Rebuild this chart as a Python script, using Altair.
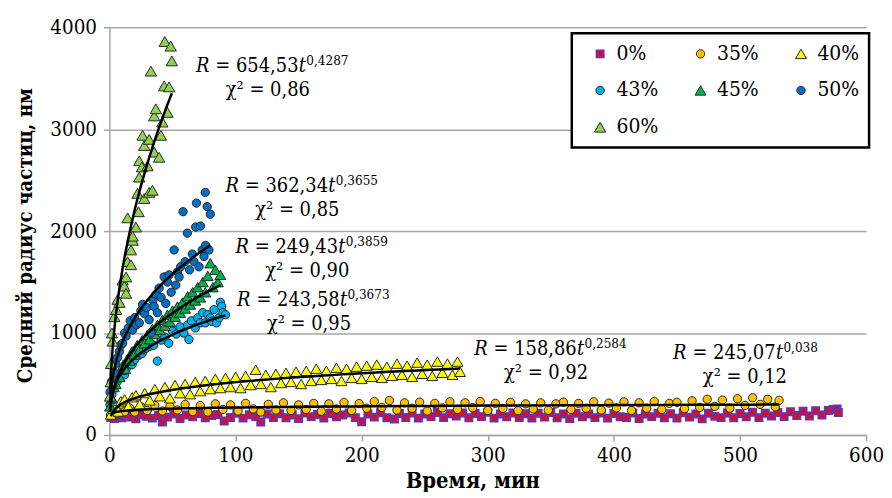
import altair as alt
import pandas as pd

FONT = "DejaVu Serif Condensed, DejaVu Serif"

series_names = ["0%", "35%", "40%", "43%", "45%", "50%", "60%"]
fill_colors = ["#FF0000", "#FFC000", "#FFFF00", "#00B0F0", "#00B050", "#0070C0", "#92D050"]
stroke_colors = ["#7030A0", "#262626", "#262626", "#262626", "#262626", "#262626", "#262626"]
stroke_widths = [2.5, 1, 1, 1, 1, 1, 1]
shapes = ["square", "circle", "triangle-up", "circle", "triangle-up", "circle", "triangle-up"]
sizes = [42, 70, 120, 70, 120, 70, 130]

# 0 %
t_0 = [1, 4, 7, 10, 13, 17, 21, 25, 29, 34,
       39, 42, 46, 51, 56, 61, 66, 71, 76, 81,
       86, 91, 96, 101, 106, 111, 116, 120, 125, 130,
       135, 140, 145, 150, 155, 160, 165, 170, 175, 180,
       185, 190, 195, 200, 205, 210, 215, 220,
       226,
       230, 235, 240, 245, 250, 255, 260, 265, 270, 275,
       280, 285, 290, 295, 300, 305, 310, 315, 320, 325,
       330, 335, 340, 345, 350, 355, 360, 365, 370, 375,
       380, 385, 390, 395, 400, 405, 410, 415, 420, 425,
       430, 435, 440, 445, 450, 455, 460, 465, 470, 475,
       480, 485, 490, 495, 500, 505, 510, 515, 520, 525,
       530, 535, 540, 545, 550, 555, 560, 565, 570,
       574, 577, 578]
r_0 = [172, 160, 185, 168, 195, 176, 158, 200, 182, 165,
       190, 127, 175, 205, 162, 195, 178, 210, 168, 190,
       200, 137, 172, 212, 165, 198, 180, 127, 205, 170,
       208, 168, 195, 160, 215, 180, 200, 165, 210, 178,
       195, 215, 170, 130, 205, 175, 218, 168,
       156,
       210, 172, 215, 165, 205, 180, 220, 170, 208, 185,
       215, 168, 210, 180, 222, 165, 205, 178, 215, 172,
       208, 165, 212, 175, 220, 168, 205, 160, 212, 178,
       205, 170, 215, 165, 210, 178, 172, 215, 162, 205,
       180, 212, 168, 208, 165, 218, 175, 205, 158, 212,
       182, 170, 215, 168, 210, 178, 222, 170, 212, 185,
       220, 180, 228, 190, 232, 185, 238, 195, 240,
       250, 255, 220]

# 35 %
t_35 = [1, 3, 6, 9, 12, 16, 20, 25, 30,
        36, 42, 48, 54, 60, 66, 72, 78, 84, 90,
        96, 102, 108, 114, 120, 126, 132, 138, 144, 150,
        156, 162, 168, 174, 180, 186, 192, 198, 204, 210,
        216, 222, 228, 234, 240, 246, 252, 258, 264, 270,
        276, 282, 288, 294, 300, 306, 312, 318, 324, 330,
        336, 342, 348, 354, 360, 366, 372, 378, 384, 390,
        396, 402, 408, 414, 420, 426, 432, 438, 444, 450,
        456, 462, 468, 474, 480, 486, 492, 498, 504, 510,
        516, 522, 528, 531]
r_35 = [195, 230, 210, 255, 228, 265, 225, 275, 240,
        290, 235, 280, 245, 300, 230, 288, 225, 305, 250,
        295, 235, 310, 255, 225, 300, 245, 315, 240, 295,
        250, 310, 232, 305, 255, 320, 240, 308, 262, 328,
        270, 338, 245, 315, 262, 322, 235, 310, 265, 325,
        250, 315, 268, 328, 240, 310, 260, 320, 238, 305,
        255, 315, 242, 305, 322, 250, 310, 262, 325, 245,
        312, 265, 325, 240, 315, 262, 328, 250, 310, 320,
        258, 335, 270, 350, 280, 342, 262, 355, 290, 365,
        300, 350, 275, 340]

# 40 %
t_40 = [1, 3, 5, 7, 9, 12, 15, 18, 21, 24,
        28, 32, 36, 40, 44, 48, 52, 56, 60, 64,
        68, 72, 76, 80, 84, 88, 92, 96, 100, 104,
        108, 112, 116, 120, 124, 128, 132, 136, 140, 144,
        148, 152, 156, 160, 164, 168, 172, 176, 180, 184,
        188, 192, 196, 200, 204, 208, 212, 216, 220, 224,
        228, 232, 236, 240, 244, 248, 252, 256, 260, 264,
        268, 272, 276, 278]
r_40 = [200, 260, 290, 230, 330, 350, 280, 370, 390, 300,
        410, 340, 450, 380, 470, 360, 490, 410, 500, 400,
        520, 430, 530, 450, 550, 460, 560, 470, 570, 460,
        580, 490, 640, 500, 590, 470, 600, 510, 610, 520,
        620, 500, 630, 530, 650, 540, 630, 550, 660, 530,
        650, 560, 670, 550, 680, 570, 690, 560, 670, 580,
        700, 590, 680, 570, 710, 600, 690, 580, 720, 610,
        700, 590, 720, 620]

# 43 %
t_43 = [0.5, 2, 4, 6, 8, 10, 12, 14, 16, 18,
        20, 23, 26, 29, 32, 35, 38, 41, 44, 47,
        50, 53, 56, 59, 62, 63, 65, 68, 70, 72,
        74, 76, 78, 80, 81, 83, 85, 87, 88, 89,
        90, 92]
r_43 = [300, 400, 470, 520, 560, 600, 590, 660, 700, 690,
        740, 780, 800, 850, 870, 880, 725, 930, 960, 900,
        1020, 990, 1060, 1000, 1080, 937, 1120, 1050, 1150, 1100,
        1200, 1100, 1180, 1150, 1115, 1230, 1100, 1150, 1300, 1262,
        1200, 1180]

# 45 %
t_45 = [0.5, 2, 3.5, 5, 6.5, 8, 9.5, 11, 12.5, 14,
        16, 18, 20, 22, 24, 26, 28, 30, 32, 34,
        36, 38, 40, 42, 44, 46, 48, 50, 52, 54,
        56, 58, 60, 62, 64, 66, 68, 70, 72, 74,
        76, 78, 80, 82, 84, 86, 88]
r_45 = [280, 360, 470, 500, 590, 570, 640, 690, 650, 740,
        730, 820, 790, 880, 840, 930, 900, 980, 940, 1040,
        990, 1080, 1030, 1130, 1070, 1180, 1110, 1220, 1160, 1260,
        1200, 1300, 1240, 1360, 1280, 1400, 1320, 1450, 1350, 1500,
        1400, 1560, 1685, 1450, 1620, 1500, 1571]

# 50 %
t_50 = [0.5, 1.5, 2.6, 3.9, 5.0, 6.5, 7.9, 9.0, 10.5, 12.0,
        13.2, 15.0, 16.5, 18.4, 20.0, 21.5, 23.7, 25.0, 26.3, 28.0,
        29.5, 31.5, 32.9, 34.5, 35.5, 37.0, 38.0, 39.4, 41.0, 43.4,
        44.7, 46.0, 47.3, 49.0, 51.3, 52.6, 54.0, 55.2, 56.5, 58.4,
        60.0, 61.8, 63.5, 65.7, 67.0, 68.4, 69.0, 71.0, 72.3, 73.6,
        75.0, 76.3, 76.0, 77.5, 78.9, 80.0]
r_50 = [420, 520, 480, 610, 700, 760, 820, 880, 900, 1000,
        970, 1050, 1120, 1030, 1150, 1080, 1100, 1220, 1280, 1190,
        1250, 1130, 1000, 1320, 1260, 1380, 1200, 1440, 1350, 1550,
        1290, 1500, 1570, 1400, 1815, 1470, 1600, 1550, 1650, 2190,
        1700, 1980, 1620, 1775, 1700, 2040, 2275, 1650, 2050, 1815,
        1750, 1860, 2380, 2240, 1815, 2165]

# 60 %
t_60 = [0.5, 1.3, 2.6, 3.9, 5.3, 6.5, 7.9, 10.5, 11.8, 13.2,
        13.2, 14.4, 17.1, 17.1, 18.4, 21.0, 22.3, 23.1, 23.7, 23.7,
        25.8, 26.3, 27.6, 27.6, 30.2, 31.5, 31.5, 32.9, 34.1, 35.5,
        35.5, 36.8, 39.4, 40.8, 42.0, 43.4, 43.9, 46.0, 47.3, 48.6,
        49.5, 14.4, 18.4, 2.0, 1.0]
r_60 = [380, 700, 920, 1160, 1230, 1330, 1300, 1520, 1460, 1390,
        1550, 1700, 1670, 1815, 1910, 2040, 2370, 2190, 2530, 2690,
        2630, 2940, 2840, 2320, 2640, 2380, 2900, 3570, 2400, 2775,
        3130, 3200, 2725, 2940, 3070, 3425, 3860, 3165, 3415, 3815,
        3670, 2130, 1950, 1000, 520]

# fit labels
label_t = [68.6, 92.0, 99.9, 101.2, 289.2, 446.9]
label_r = [3561, 2383, 1785, 1268, 780, 741]
coef_text = ["654,53", "362,34", "249,43", "243,58", "158,86", "245,07"]
expo_text = ["0,4287", "0,3655", "0,3859", "0,3673", "0,2584", "0,038"]
chi_text = ["0,86", "0,85", "0,90", "0,95", "0,92", "0,12"]

x_ticks = [0, 100, 200, 300, 400, 500, 600]
y_ticks = [0, 1000, 2000, 3000, 4000]

all_t = [t_0, t_35, t_40, t_43, t_45, t_50, t_60]
all_r = [r_0, r_35, r_40, r_43, r_45, r_50, r_60]
frames = []
for name, ts, rs in zip(series_names, all_t, all_r):
    frames.append(pd.DataFrame({"t": ts, "r": rs, "series": name}))
df = pd.concat(frames, ignore_index=True)

lab = pd.DataFrame({
    "t": label_t,
    "r": label_r,
    "coef": ["= " + c for c in coef_text],
    "expo": expo_text,
    "chi": ["\u03c7\u00b2 = " + c for c in chi_text],
})

x_scale = alt.Scale(domain=[0, 600], nice=False, zero=False)
y_scale = alt.Scale(domain=[0, 4000], nice=False)
GRAY = "#A6A6A6"
TICK_FS = 20.5

x_axis = alt.Axis(values=x_ticks, format="d", title="Время, мин", grid=False,
                  domainColor=GRAY, domainWidth=1.5, tickColor=GRAY, tickWidth=1.5,
                  tickSize=6, labelFont=FONT, labelFontSize=TICK_FS, labelColor="black",
                  labelPadding=5, labelFlush=False, labelOverlap=False,
                  titleFont=FONT, titleFontSize=22, titleFontWeight="bold", titleColor="black",
                  titleX=365, titleY=53, titleAlign="center", titleBaseline="alphabetic")
y_axis = alt.Axis(values=y_ticks, format="d", title="Средний радиус частиц, нм", grid=True,
                  gridColor=GRAY, gridWidth=1.5,
                  domainColor=GRAY, domainWidth=1.5, tickColor=GRAY, tickWidth=1.5,
                  tickSize=6, labelFont=FONT, labelFontSize=TICK_FS, labelColor="black",
                  labelPadding=7, labelFlush=False, labelOverlap=False,
                  titleFont=FONT, titleFontSize=20.5, titleFontWeight="bold", titleColor="black",
                  titleX=-78, titleY=209, titleAngle=270, titleAlign="center",
                  titleBaseline="alphabetic")

points = alt.Chart(df).mark_point(filled=True, opacity=1, fillOpacity=1).encode(
    x=alt.X("t:Q", scale=x_scale, axis=x_axis),
    y=alt.Y("r:Q", scale=y_scale, axis=y_axis),
    fill=alt.Fill("series:N", scale=alt.Scale(domain=series_names, range=fill_colors), title=None),
    stroke=alt.Stroke("series:N", scale=alt.Scale(domain=series_names, range=stroke_colors), title=None),
    strokeWidth=alt.StrokeWidth("series:N", scale=alt.Scale(type="ordinal", domain=series_names, range=stroke_widths), title=None),
    shape=alt.Shape("series:N", scale=alt.Scale(domain=series_names, range=shapes), title=None),
    size=alt.Size("series:N", scale=alt.Scale(type="ordinal", domain=series_names, range=sizes), title=None),
)

lines = alt.Chart(df).transform_filter(
    alt.datum.series != "0%"
).transform_regression(
    "t", "r", method="pow", groupby=["series"]
).mark_line(color="black", strokeWidth=2.5).encode(
    x=alt.X("t:Q", scale=x_scale),
    y=alt.Y("r:Q", scale=y_scale),
    detail="series:N",
)

FS = 20
base = alt.Chart(lab).encode(x=alt.X("t:Q", scale=x_scale), y=alt.Y("r:Q", scale=y_scale))
r_txt = base.mark_text(text="R", align="left", baseline="alphabetic", font=FONT,
                       fontSize=FS, fontStyle="italic", color="black")
coef_txt = base.mark_text(align="left", baseline="alphabetic", font=FONT, fontSize=FS,
                          color="black", dx=19.5).encode(text="coef:N")
tt_txt = base.mark_text(text="t", align="left", baseline="alphabetic", font=FONT,
                        fontSize=FS, fontStyle="italic", color="black", dx=103.5)
exp_txt = base.mark_text(align="left", baseline="alphabetic", font=FONT, fontSize=13.5,
                         color="black", dx=111, dy=-7).encode(text="expo:N")
chi_txt = base.mark_text(align="left", baseline="alphabetic", font=FONT, fontSize=FS,
                         color="black", dx=30, dy=24).encode(text="chi:N")

chart = alt.layer(points, lines, r_txt, coef_txt, tt_txt, exp_txt, chi_txt).properties(
    width=761, height=410,
    padding={"left": 102, "top": 18, "right": 18, "bottom": 56},
    autosize=alt.AutoSizeParams(type="none"),
).configure_view(stroke=None).configure_legend(
    orient="none", legendX=465, legendY=6, columns=3, direction="horizontal",
    padding=10, rowPadding=15, columnPadding=24, symbolOffset=8, labelOffset=6,
    fillColor="white", strokeColor="black", strokeWidth=2.5,
    labelFont=FONT, labelFontSize=21, labelColor="black",
)

chart.save("out.html", embed_options={"renderer": "svg", "actions": False})
